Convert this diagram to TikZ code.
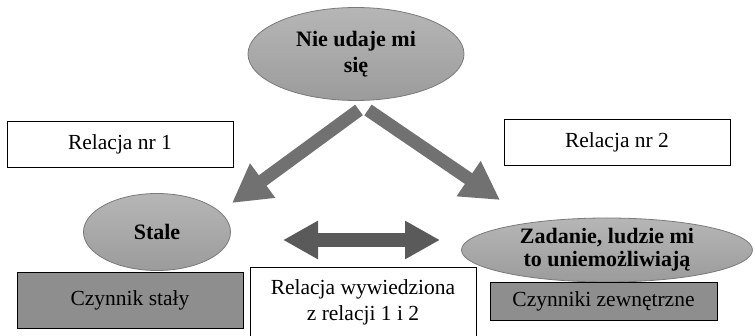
\documentclass[tikz,border=0pt]{standalone}
\usepackage{fontspec}
\setmainfont{Liberation Serif}
\usetikzlibrary{arrows.meta,shapes.geometric}
\definecolor{ellfill}{HTML}{A9A9A9}
\definecolor{ellline}{HTML}{7A7A7A}
\definecolor{boxfill}{HTML}{8E8E8E}
\definecolor{arrgray}{HTML}{717171}
\definecolor{arrdark}{HTML}{5A5A5A}
\tikzset{
  oval/.style={ellipse, draw=ellline, line width=0.8pt, top color=ellfill!85!white, bottom color=ellfill!92!black, middle color=ellfill, inner sep=0pt, align=center, font=\fontsize{22}{26}\selectfont\bfseries},
  plaintext/.style={align=center, font=\fontsize{21.5}{26}\selectfont},
  whitebox/.style={rectangle, draw=black, line width=0.9pt, fill=white, plaintext},
  graybox/.style={rectangle, draw=black, line width=0.9pt, fill=boxfill, plaintext},
  fatarrow/.style={draw=arrgray, line width=13pt, -{Triangle[length=38pt,width=40pt]}},
  twoway/.style={draw=arrdark, line width=14pt, {Triangle[length=35pt,width=36pt]}-{Triangle[length=35pt,width=36pt]}}
}
\begin{document}
\begin{tikzpicture}[x=1pt,y=-1pt]
\useasboundingbox (0,0) rectangle (755,336);
% top question
\node[oval, minimum width=216pt, minimum height=93pt] (top) at (356,54) {Nie udaje mi\\się};
% relation labels
\node[whitebox, minimum width=226pt, minimum height=46pt] (rel1) at (120,144) {Relacja nr 1};
\node[whitebox, minimum width=226pt, minimum height=46pt] (rel2) at (617,142) {Relacja nr 2};
% answers
\node[oval, minimum width=147pt, minimum height=77pt] (stale) at (157,232) {Stale};
\node[oval, minimum width=291pt, minimum height=64pt, font=\fontsize{22}{23}\selectfont\bfseries] (zad) at (607,250) {Zadanie, ludzie mi\\to uniemożliwiają};
% factor boxes
\node[graybox, minimum width=226pt, minimum height=56pt] (c1) at (130,300) {Czynnik stały};
\node[graybox, minimum width=227pt, minimum height=38pt] (c2) at (603.5,301) {Czynniki zewnętrzne};
\node[whitebox, minimum width=226pt, minimum height=76pt, anchor=north west] (derived) at (250,267) {};
\node[plaintext] (dtext) at (363,302) {Relacja wywiedziona\\z relacji 1 i 2};
% connectors
\coordinate (sl) at (359,110);
\coordinate (sr) at (368,110);
\coordinate (tl) at (232,203);
\coordinate (tr) at (500,200);
\draw[fatarrow] (sl) -- (tl);
\draw[fatarrow] (sr) -- (tr);
\coordinate (dl) at (283,240);
\coordinate (dr) at (440,240);
\draw[twoway] (dl) -- (dr);
\end{tikzpicture}
\end{document}
